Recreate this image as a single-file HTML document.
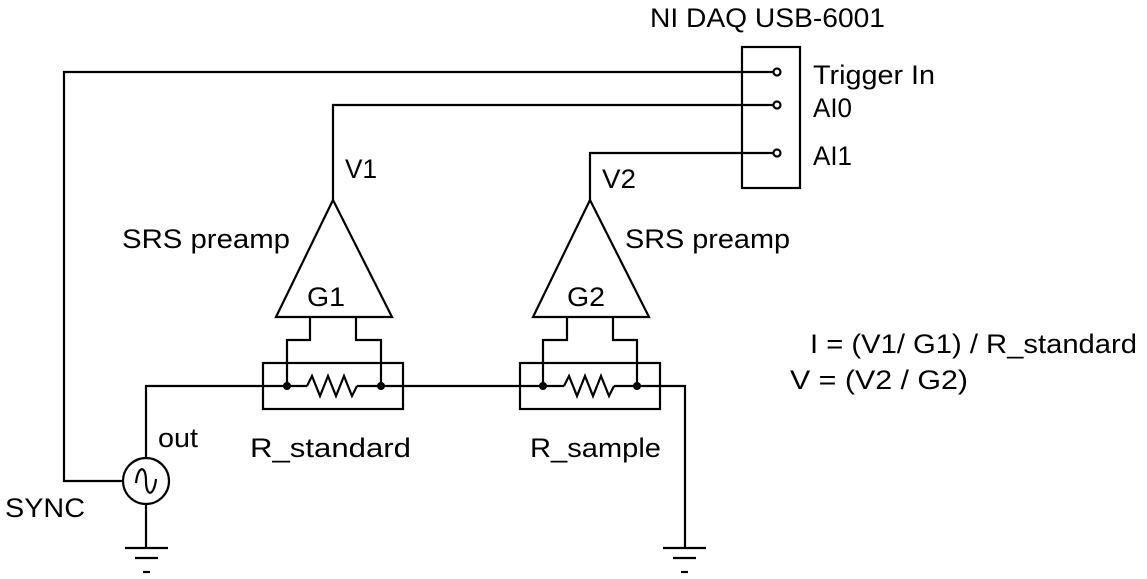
<!DOCTYPE html>
<html><head><style>html,body{margin:0;padding:0;background:#fff}svg{display:block}</style></head>
<body>
<svg width="1147" height="579" viewBox="0 0 1147 579" xmlns="http://www.w3.org/2000/svg">
<g fill="none" stroke="#000" stroke-width="2.2">
<rect x="742" y="47" width="58" height="141"/>
<polyline points="773,72 64,72 64,481 123,481"/>
<polyline points="773,105 333,105 333,200"/>
<polyline points="773,153 590,153 590,200"/>
<circle cx="777" cy="72" r="3.5" fill="#fff"/>
<circle cx="777" cy="105" r="3.5" fill="#fff"/>
<circle cx="777" cy="153" r="3.5" fill="#fff"/>
<polygon points="333,200 276,317 392,317"/>
<polygon points="590,200 533,317 649,317"/>
<polyline points="310,317 310,340 287,340 287,386"/>
<polyline points="356,317 356,340 381,340 381,386"/>
<polyline points="567,317 567,340 543,340 543,386"/>
<polyline points="613,317 613,340 637,340 637,386"/>
<rect x="263" y="363" width="140" height="46"/>
<rect x="520" y="363" width="140" height="46"/>
<polyline points="146,458 146,386 307,386"/>
<polyline points="357,386 564,386"/>
<polyline points="614,386 685,386 685,548"/>
<polyline points="307,386 312,376 320,396 328,376 336,396 344,376 352,396 357,386"/>
<polyline points="564,386 569,376 577,396 585,376 593,396 601,376 609,396 614,386"/>
<circle cx="146" cy="481" r="23"/>
<path d="M136,483 C138,465 146,465 146,481 C146,497 154,497 156,479"/>
<line x1="146" y1="504" x2="146" y2="548"/>
<line x1="125" y1="548" x2="168" y2="548"/>
<line x1="135" y1="558" x2="158" y2="558"/>
<line x1="143" y1="572" x2="150" y2="572"/>
<line x1="663" y1="548" x2="706" y2="548"/>
<line x1="673" y1="558" x2="696" y2="558"/>
<line x1="681" y1="572" x2="688" y2="572"/>
</g>
<g fill="#000">
<circle cx="287" cy="386" r="4"/><circle cx="381" cy="386" r="4"/>
<circle cx="543" cy="386" r="4"/><circle cx="637" cy="386" r="4"/>
</g>
<g font-family="Liberation Sans, sans-serif" font-size="27" fill="#000" lengthAdjust="spacingAndGlyphs">
<text x="650" y="27" textLength="235" lengthAdjust="spacingAndGlyphs">NI DAQ USB-6001</text>
<text x="813" y="84" textLength="122" lengthAdjust="spacingAndGlyphs">Trigger In</text>
<text x="813" y="117" textLength="39" lengthAdjust="spacingAndGlyphs">AI0</text>
<text x="813" y="165" textLength="39" lengthAdjust="spacingAndGlyphs">AI1</text>
<text x="345" y="178" textLength="32" lengthAdjust="spacingAndGlyphs">V1</text>
<text x="602" y="188" textLength="34" lengthAdjust="spacingAndGlyphs">V2</text>
<text x="122" y="248" textLength="168" lengthAdjust="spacingAndGlyphs">SRS preamp</text>
<text x="625" y="248" textLength="165" lengthAdjust="spacingAndGlyphs">SRS preamp</text>
<text x="307" y="306" textLength="38" lengthAdjust="spacingAndGlyphs">G1</text>
<text x="567" y="306" textLength="38" lengthAdjust="spacingAndGlyphs">G2</text>
<text x="810" y="353" textLength="327" lengthAdjust="spacingAndGlyphs">I = (V1/ G1) / R_standard</text>
<text x="790" y="389" textLength="178" lengthAdjust="spacingAndGlyphs">V = (V2 / G2)</text>
<text x="158" y="447" textLength="40" lengthAdjust="spacingAndGlyphs">out</text>
<text x="250" y="457" textLength="161" lengthAdjust="spacingAndGlyphs">R_standard</text>
<text x="530" y="457" textLength="131" lengthAdjust="spacingAndGlyphs">R_sample</text>
<text x="5" y="517" textLength="80" lengthAdjust="spacingAndGlyphs">SYNC</text>
</g>
</svg>
</body></html>
